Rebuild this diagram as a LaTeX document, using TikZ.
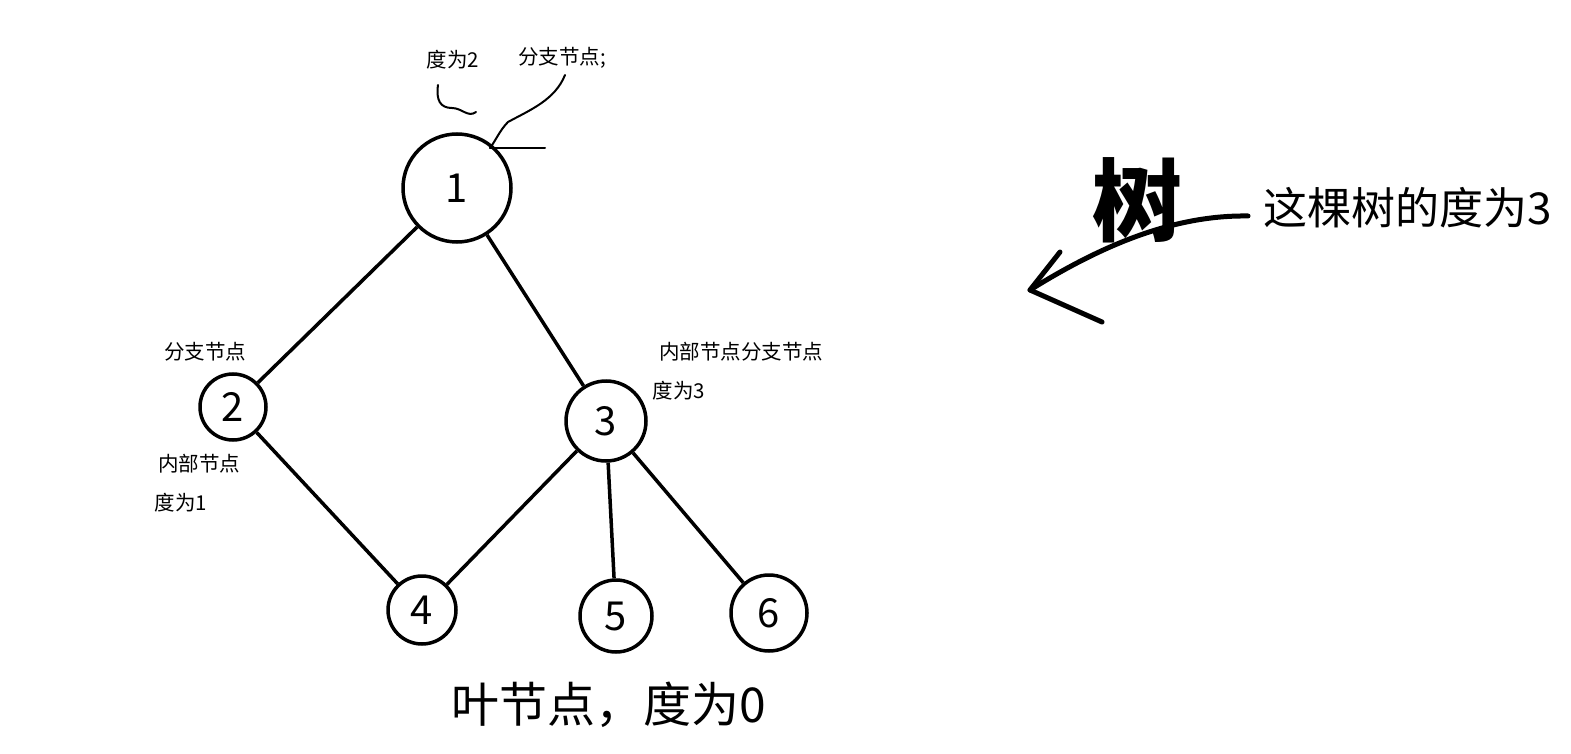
\documentclass[tikz,border=0pt]{standalone}
\usepackage{fontspec}
\newfontfamily\cjk{Noto Sans CJK SC}
\begin{document}
\begin{tikzpicture}[x=1pt,y=-1pt,
  nd/.style={circle,draw,line width=3.5pt,inner sep=0pt,font=\cjk\fontsize{40}{40}\selectfont},
  ed/.style={line width=3.5pt},
  lbl/.style={font=\cjk\fontsize{20.5}{20.5}\selectfont,inner sep=0pt},
  hand/.style={line width=2pt,line cap=round,line join=round}]
\useasboundingbox (0,0) rectangle (1571,754);
\node[nd,minimum size=108pt] (n1) at (457,188) {1};
\node[nd,minimum size=66pt] (n2) at (233,407) {2};
\node[nd,minimum size=80pt] (n3) at (606,421) {3};
\node[nd,minimum size=68pt] (n4) at (422,610) {4};
\node[nd,minimum size=72pt] (n5) at (616,616) {5};
\node[nd,minimum size=76pt] (n6) at (769,613) {6};
\draw[ed] (n1) -- (n2);
\draw[ed] (n1) -- (n3);
\draw[ed] (n2) -- (n4);
\draw[ed] (n3) -- (n4);
\draw[ed] (n3) -- (n5);
\draw[ed] (n3) -- (n6);
\node[lbl] (t1) at (453,60) {度为2};
\node[lbl] (t2) at (562,58) {分支节点;};
\node[lbl] (t3) at (205,352) {分支节点};
\node[lbl] (t4) at (741,352) {内部节点分支节点};
\node[lbl] (t5) at (679,391) {度为3};
\node[lbl] (t6) at (199,464) {内部节点};
\node[lbl] (t7) at (181,503) {度为1};
\node[font=\cjk\fontsize{48}{48}\selectfont,inner sep=0pt] (t8) at (609,705) {叶节点，度为0};
\node[font=\cjk\fontsize{44}{44}\selectfont,inner sep=0pt] (t9) at (1408,208) {这棵树的度为3};
\node[font=\cjk\bfseries\fontsize{90}{90}\selectfont,inner sep=0pt] (t10) at (1137,200) {树};
\draw[hand] (438,85) .. controls (436,100) and (440,108) .. (452,108) .. controls (462,108) and (468,118) .. (476,112);
\draw[hand] (565,75) .. controls (555,100) and (530,110) .. (508,122) .. controls (500,130) and (496,140) .. (490,148);
\draw[hand] (490,148) -- (545,148);
\draw[line width=5pt,line cap=round,line join=round] (1248,216) .. controls (1180,215) and (1110,240) .. (1030,290);
\draw[line width=5pt,line cap=round,line join=round] (1060,252) -- (1030,290) -- (1102,322);
\end{tikzpicture}
\end{document}
